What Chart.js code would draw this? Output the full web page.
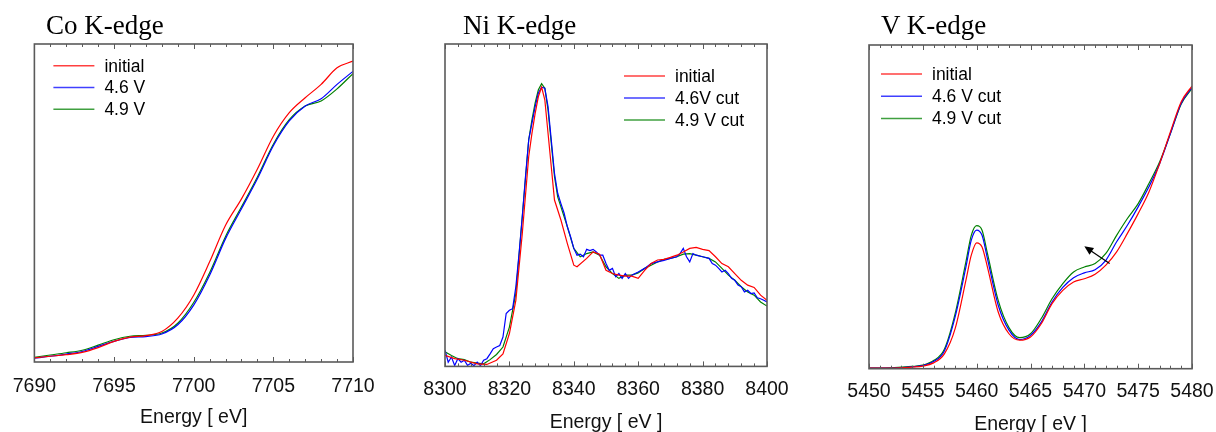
<!DOCTYPE html>
<html>
<head>
<meta charset="utf-8">
<script src="https://cdn.jsdelivr.net/npm/chart.js@4.4.1/dist/chart.umd.min.js"></script>
<style>
  html, body { margin: 0; padding: 0; background: #fff; }
  #wrap { position: relative; width: 1216px; height: 432px; overflow: hidden; }
  .panel { position: absolute; top: 0; }
  .ttl { position: absolute; top: 12px; font-family: "Liberation Serif", "Times New Roman", serif; font-size: 27px; line-height: 27px; color: #000; white-space: nowrap; }
</style>
</head>
<body>
<div id="wrap">
  <canvas id="coChart" class="panel" width="400" height="450" style="left:0px"></canvas>
  <canvas id="niChart" class="panel" width="400" height="450" style="left:410px"></canvas>
  <canvas id="vChart" class="panel" width="400" height="450" style="left:830px"></canvas>
  <div class="ttl" style="left:46px">Co K-edge</div>
  <div class="ttl" style="left:463px">Ni K-edge</div>
  <div class="ttl" style="left:881px">V K-edge</div>
</div>
<script>
// Co K-edge
const coEnergy = [7690, 7691, 7692, 7693, 7694, 7695, 7696, 7697, 7698, 7699, 7700,
  7701, 7702, 7703, 7704, 7705, 7706, 7707, 7708, 7709, 7710];
const coInitial = [0.013, 0.018, 0.023, 0.030, 0.045, 0.065, 0.078, 0.083, 0.096, 0.138, 0.210,
  0.315, 0.430, 0.513, 0.607, 0.710, 0.784, 0.831, 0.873, 0.925, 0.946];
const co46 = [0.012, 0.018, 0.025, 0.033, 0.049, 0.065, 0.077, 0.080, 0.088, 0.117, 0.179,
  0.273, 0.388, 0.482, 0.576, 0.680, 0.758, 0.805, 0.828, 0.873, 0.914];
const co49 = [0.015, 0.022, 0.029, 0.037, 0.053, 0.070, 0.081, 0.084, 0.091, 0.122, 0.187,
  0.281, 0.395, 0.488, 0.582, 0.685, 0.762, 0.805, 0.821, 0.859, 0.907];
const coTicks = [7690, 7695, 7700, 7705, 7710];
const coLabels = ["initial", "4.6 V", "4.9 V"];

// Ni K-edge
const niEnergyInitial = [8300, 8303, 8306, 8310, 8313, 8316, 8318, 8320, 8322, 8324, 8326, 8327, 8328,
  8329, 8330, 8331, 8332, 8333, 8334, 8336, 8338, 8340, 8341, 8344, 8346, 8348, 8350, 8352, 8354,
  8356, 8358, 8360, 8362, 8364, 8366, 8368, 8370, 8372, 8374, 8376, 8378, 8380, 8382, 8384, 8386,
  8388, 8390, 8392, 8394, 8396, 8398, 8400];
const niInitial = [0.034, 0.024, 0.019, 0.008, 0.006, 0.019, 0.039, 0.102, 0.205, 0.412, 0.651, 0.723, 0.785,
  0.837, 0.866, 0.827, 0.723, 0.620, 0.516, 0.454, 0.381, 0.314, 0.309, 0.335, 0.355, 0.348, 0.298, 0.288, 0.283,
  0.280, 0.280, 0.273, 0.298, 0.319, 0.330, 0.332, 0.338, 0.345, 0.355, 0.366, 0.369, 0.363, 0.359, 0.340, 0.319,
  0.309, 0.288, 0.267, 0.252, 0.245, 0.221, 0.205];
const niEnergy46 = [8300, 8301, 8302, 8303, 8304, 8305, 8306, 8307, 8308, 8309, 8310, 8311, 8312, 8313,
  8314, 8315, 8316, 8317, 8318, 8319, 8320, 8321, 8322, 8323, 8324, 8325, 8326, 8327, 8328, 8329,
  8330, 8331, 8332, 8333, 8334, 8335, 8336, 8337, 8338, 8339, 8340, 8341, 8342, 8343, 8344, 8345,
  8346, 8347, 8348, 8349, 8350, 8351, 8352, 8353, 8354, 8355, 8356, 8357, 8358, 8360, 8362, 8364,
  8366, 8368, 8370, 8372, 8373, 8374, 8375, 8376, 8377, 8378, 8380, 8382, 8383, 8384, 8385, 8386,
  8387, 8388, 8389, 8390, 8391, 8392, 8393, 8394, 8395, 8396, 8397, 8398, 8399, 8400];
const ni46 = [0.050, 0.013, 0.029, 0.003, 0.024, 0.013, 0.019, 0.003, 0.010, 0.002, 0.013, 0.002, 0.019, 0.024,
  0.039, 0.055, 0.060, 0.065, 0.091, 0.164, 0.174, 0.179, 0.247, 0.350, 0.464, 0.589, 0.703, 0.754, 0.806, 0.848,
  0.866, 0.863, 0.806, 0.703, 0.599, 0.537, 0.505, 0.475, 0.433, 0.402, 0.366, 0.345, 0.348, 0.340, 0.363, 0.359,
  0.363, 0.355, 0.345, 0.345, 0.319, 0.298, 0.304, 0.278, 0.288, 0.273, 0.288, 0.273, 0.283, 0.293, 0.304, 0.319,
  0.324, 0.329, 0.335, 0.340, 0.350, 0.366, 0.340, 0.324, 0.350, 0.345, 0.340, 0.335, 0.319, 0.314, 0.304, 0.293,
  0.298, 0.288, 0.273, 0.267, 0.252, 0.247, 0.231, 0.236, 0.226, 0.228, 0.213, 0.210, 0.205, 0.200];
const niEnergy49 = [8300, 8302, 8304, 8306, 8308, 8310, 8312, 8314, 8316, 8318, 8320, 8322, 8324, 8326,
  8327, 8328, 8329, 8330, 8331, 8332, 8333, 8334, 8335, 8336, 8338, 8340, 8342, 8344, 8346, 8348,
  8350, 8352, 8354, 8356, 8358, 8360, 8362, 8364, 8366, 8368, 8370, 8372, 8374, 8376, 8378, 8380,
  8382, 8384, 8386, 8388, 8390, 8392, 8394, 8396, 8398, 8400];
const ni49 = [0.045, 0.034, 0.024, 0.021, 0.013, 0.010, 0.008, 0.021, 0.037, 0.060, 0.122, 0.226, 0.464, 0.703,
  0.765, 0.817, 0.858, 0.877, 0.863, 0.795, 0.692, 0.589, 0.526, 0.495, 0.433, 0.366, 0.340, 0.350, 0.355, 0.345,
  0.309, 0.288, 0.273, 0.283, 0.283, 0.290, 0.304, 0.314, 0.324, 0.332, 0.335, 0.340, 0.348, 0.350, 0.345, 0.340,
  0.335, 0.324, 0.304, 0.283, 0.267, 0.247, 0.231, 0.221, 0.200, 0.187];
const niTicks = [8300, 8320, 8340, 8360, 8380, 8400];
const niLabels = ["initial", "4.6V cut", "4.9 V cut"];

// V K-edge
const vEnergy = [5450, 5452, 5454, 5455, 5456, 5457, 5458, 5459, 5459.5, 5460, 5460.5, 5461,
  5462, 5463, 5464, 5465, 5466, 5467, 5468, 5469, 5470, 5471, 5472, 5473, 5474, 5475, 5476,
  5477, 5478, 5479, 5480];
const vInitial = [0.002, 0.002, 0.005, 0.008, 0.018, 0.046, 0.124, 0.273, 0.351, 0.389, 0.376, 0.314,
  0.175, 0.108, 0.088, 0.098, 0.139, 0.201, 0.242, 0.268, 0.278, 0.292, 0.320, 0.361, 0.418, 0.479, 0.546,
  0.634, 0.732, 0.825, 0.873];
const v46 = [0.002, 0.002, 0.006, 0.010, 0.022, 0.055, 0.160, 0.314, 0.397, 0.428, 0.412, 0.340,
  0.196, 0.119, 0.090, 0.103, 0.144, 0.206, 0.251, 0.281, 0.296, 0.306, 0.335, 0.392, 0.443, 0.500, 0.562,
  0.634, 0.727, 0.820, 0.869];
const v49 = [0.002, 0.003, 0.007, 0.011, 0.025, 0.060, 0.170, 0.330, 0.412, 0.442, 0.428, 0.356,
  0.211, 0.127, 0.096, 0.108, 0.155, 0.216, 0.263, 0.299, 0.314, 0.325, 0.356, 0.412, 0.464, 0.510, 0.572,
  0.639, 0.727, 0.818, 0.866];
const vTicks = [5450, 5455, 5460, 5465, 5470, 5475, 5480];
const vLabels = ["initial", "4.6 V cut", "4.9 V cut"];
const vArrowFrom = [5472.35, 0.325];
const vArrowTo = [5470.0, 0.378];

const colors = ["#ff0000", "#0000ff", "#008000"];
const fontSans = "'Liberation Sans', Arial, sans-serif";

const toPoints = (xs, ys) => xs.map((x, i) => ({ x: x, y: ys[i] }));

// frame, inward ticks, inside legend and optional arrow
const framePlugin = {
  id: "frame",
  afterDatasetsDraw(chart, args, o) {
    const { ctx, chartArea: a } = chart;
    const x = chart.scales.x;
    ctx.save();
    ctx.strokeStyle = "#5a5a5a";
    ctx.lineWidth = 1;
    for (let e = x.min; e <= x.max + 1e-6; e += o.minor) {
      const px = Math.round(x.getPixelForValue(e)) + 0.5;
      const r = (e - x.min) / o.major;
      const len = Math.abs(r - Math.round(r)) < 1e-6 ? 5 : 3;
      ctx.beginPath();
      ctx.moveTo(px, a.bottom); ctx.lineTo(px, a.bottom - len);
      ctx.moveTo(px, a.top); ctx.lineTo(px, a.top + len);
      ctx.stroke();
    }
    ctx.lineWidth = 1.6;
    ctx.strokeRect(a.left, a.top, a.right - a.left, a.bottom - a.top);

    // legend
    ctx.font = "17.5px " + fontSans;
    ctx.textBaseline = "middle";
    ctx.fillStyle = "#000";
    chart.data.datasets.forEach((ds, i) => {
      const y = a.top + o.legY + i * o.legGap;
      ctx.strokeStyle = ds.borderColor;
      ctx.globalAlpha = 0.75;
      ctx.lineWidth = 1.5;
      ctx.beginPath();
      ctx.moveTo(a.left + o.legX, y);
      ctx.lineTo(a.left + o.legX + 41, y);
      ctx.stroke();
      ctx.globalAlpha = 1;
      ctx.fillText(ds.label, a.left + o.legText, y + 1);
    });

    if (o.arrow) {
      const y = chart.scales.y;
      const x0 = x.getPixelForValue(o.arrow[0][0]), y0 = y.getPixelForValue(o.arrow[0][1]);
      const x1 = x.getPixelForValue(o.arrow[1][0]), y1 = y.getPixelForValue(o.arrow[1][1]);
      const ang = Math.atan2(y1 - y0, x1 - x0);
      ctx.strokeStyle = "#000";
      ctx.fillStyle = "#000";
      ctx.lineWidth = 1.2;
      ctx.beginPath();
      ctx.moveTo(x0, y0);
      ctx.lineTo(x1 - 6 * Math.cos(ang), y1 - 6 * Math.sin(ang));
      ctx.stroke();
      ctx.beginPath();
      ctx.moveTo(x1, y1);
      ctx.lineTo(x1 - 9 * Math.cos(ang) + 4 * Math.sin(ang), y1 - 9 * Math.sin(ang) - 4 * Math.cos(ang));
      ctx.lineTo(x1 - 9 * Math.cos(ang) - 4 * Math.sin(ang), y1 - 9 * Math.sin(ang) + 4 * Math.cos(ang));
      ctx.closePath();
      ctx.fill();
    }
    ctx.restore();
  }
};

const makePanel = (id, series, labels, ticks, axisTitle, p) => {
  new Chart(document.getElementById(id), {
    type: "line",
    data: {
      datasets: series.map((pts, i) => ({
        label: labels[i],
        data: pts,
        borderColor: colors[i],
        borderWidth: 1.2,
        pointRadius: 0,
        fill: false,
        tension: p.smooth ? 0.4 : 0,
        cubicInterpolationMode: p.smooth ? "monotone" : "default",
      })),
    },
    options: {
      responsive: false,
      animation: false,
      events: [],
      layout: { padding: p.pad },
      plugins: {
        legend: { display: false },
        tooltip: { enabled: false },
        frame: p.frame,
      },
      scales: {
        x: {
          type: "linear",
          min: ticks[0],
          max: ticks[ticks.length - 1],
          afterBuildTicks: (s) => { s.ticks = ticks.map((v) => ({ value: v })); },
          grid: { display: false, drawTicks: false },
          border: { display: false },
          ticks: {
            padding: p.tickPad,
            color: "#111",
            maxRotation: 0,
            font: { family: fontSans, size: 19.5 },
            callback: (v) => String(v),
          },
          title: {
            display: true,
            text: axisTitle,
            color: "#111",
            font: { family: fontSans, size: 19.5 },
            padding: { top: p.titlePad, bottom: 4 },
          },
        },
        y: { display: false, min: 0, max: 1 },
      },
    },
    plugins: [framePlugin],
  });
};

makePanel("coChart",
  [toPoints(coEnergy, coInitial), toPoints(coEnergy, co46), toPoints(coEnergy, co49)],
  coLabels, coTicks, "Energy [ eV]",
  { smooth: true, tickPad: 12.7, titlePad: -4.5, pad: { left: 33, right: 47, top: 44, bottom: 16.3 },
    frame: { minor: 1, major: 5, legX: 19, legText: 70, legY: 21.7, legGap: 21.8 } });

makePanel("niChart",
  [toPoints(niEnergyInitial, niInitial), toPoints(niEnergy46, ni46), toPoints(niEnergy49, ni49)],
  niLabels, niTicks, "Energy [ eV ]",
  { smooth: false, tickPad: 11.3, titlePad: -1.1, pad: { left: 35, right: 43, top: 44, bottom: 11.3 },
    frame: { minor: 4, major: 20, legX: 179, legText: 230, legY: 32, legGap: 22 } });

makePanel("vChart",
  [toPoints(vEnergy, vInitial), toPoints(vEnergy, v46), toPoints(vEnergy, v49)],
  vLabels, vTicks, "Energy [ eV ]",
  { smooth: true, tickPad: 11, titlePad: -1, pad: { left: 39, right: 38, top: 45, bottom: 9.5 },
    frame: { minor: 1, major: 5, legX: 12, legText: 63, legY: 29, legGap: 22.3,
      arrow: [vArrowFrom, vArrowTo] } });
</script>
</body>
</html>
